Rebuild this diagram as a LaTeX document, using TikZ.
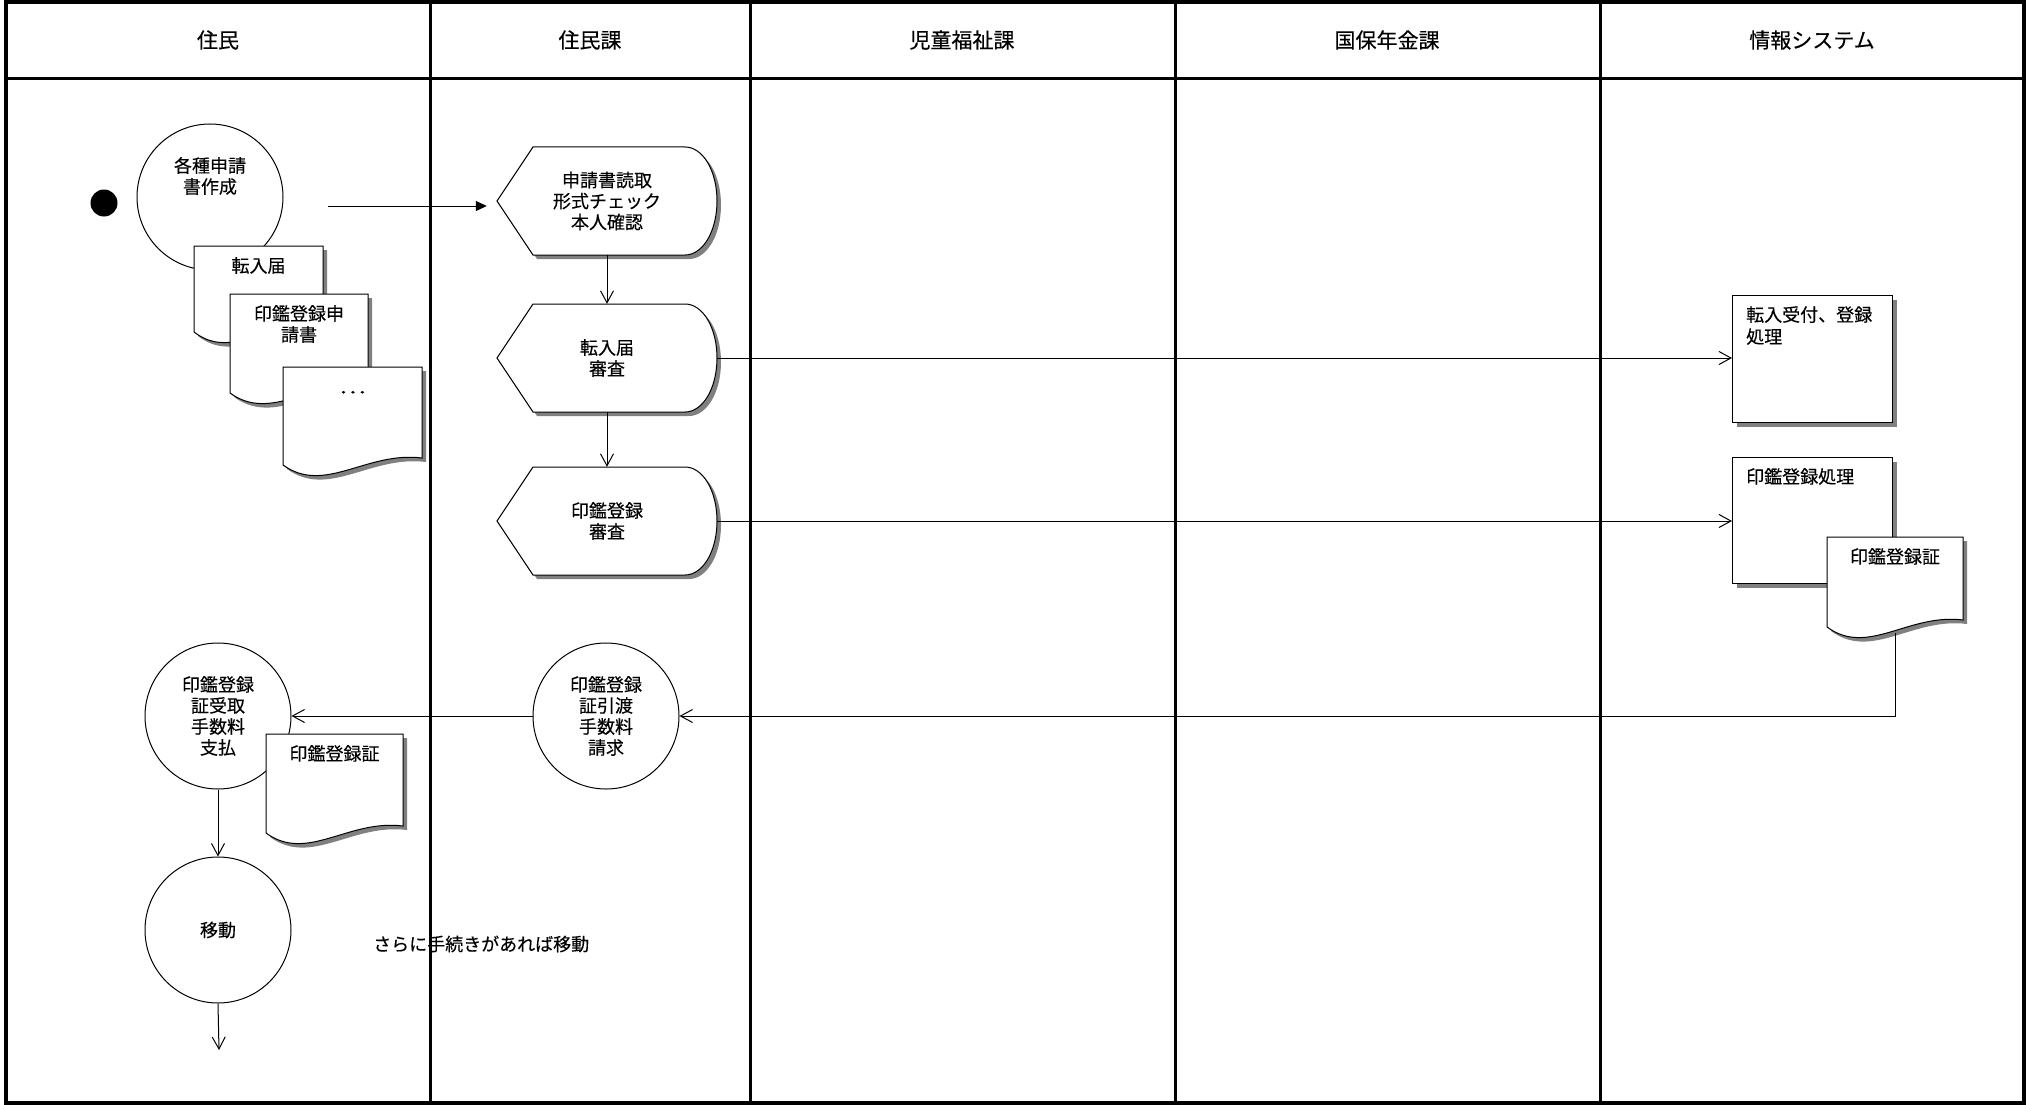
\documentclass[tikz,border=0pt]{standalone}
\usepackage{fontspec}
\setmainfont{Noto Sans CJK JP}[FakeBold=0.3]
\usetikzlibrary{arrows.meta,shadows}

\tikzset{
  frameline/.style={line width=4pt, black},
  lane/.style={line width=3pt, black},
  hdr/.style={font=\fontsize{21}{25}\selectfont, inner sep=0pt},
  txt/.style={font=\fontsize{18}{21}\selectfont, align=center, inner sep=0pt},
  ltxt/.style={font=\fontsize{18}{22}\selectfont, align=left, inner sep=0pt},
  proc/.style={circle, draw, line width=1pt, fill=white, minimum size=146pt, txt},
  shadowc/.style={fill=black!50},
  shapeline/.style={fill=white, draw=black, line width=1pt},
  rectbox/.style={draw, fill=white, line width=1pt, minimum width=160pt, inner sep=0pt,
    anchor=north west, drop shadow={shadow xshift=4pt, shadow yshift=-4pt, fill=black!50, opacity=1}},
  flow/.style={line width=1pt, -{Straight Barb[length=12pt,width=13pt]}},
  solidflow/.style={line width=1pt, -{Triangle[length=11pt,width=10pt]}},
}

% document shape: name, x0, y0, w, h (to left bottom corner), text
\newcommand\docbox[6]{%
  \fill[shadowc, shift={(4,4)}] (#2,#3) -- ({#2+#4},#3) -- ({#2+#4},{#3+#5-7})
     .. controls ({#2+0.6*#4},{#3+#5-14}) and ({#2+0.3*#4},{#3+#5+30}) .. (#2,{#3+#5}) -- cycle;
  \path[shapeline] (#2,#3) -- ({#2+#4},#3) -- ({#2+#4},{#3+#5-7})
     .. controls ({#2+0.6*#4},{#3+#5-14}) and ({#2+0.3*#4},{#3+#5+30}) .. (#2,{#3+#5}) -- cycle;
  \node[txt, anchor=north] (#1) at ({#2+#4/2},{#3+11}) {#6};
}

% display shape: name, cx, cy, text
\newcommand\dispbox[4]{%
  \fill[shadowc, shift={(4,4)}] ({#2-110},#3) -- ({#2-74},{#3-54}) -- ({#2+78},{#3-54})
     .. controls ({#2+96},{#3-54}) and ({#2+110},{#3-30}) .. ({#2+110},#3)
     .. controls ({#2+110},{#3+30}) and ({#2+96},{#3+54}) .. ({#2+78},{#3+54})
     -- ({#2-74},{#3+54}) -- cycle;
  \path[shapeline] ({#2-110},#3) -- ({#2-74},{#3-54}) -- ({#2+78},{#3-54})
     .. controls ({#2+96},{#3-54}) and ({#2+110},{#3-30}) .. ({#2+110},#3)
     .. controls ({#2+110},{#3+30}) and ({#2+96},{#3+54}) .. ({#2+78},{#3+54})
     -- ({#2-74},{#3+54}) -- cycle;
  \node[txt, minimum width=220pt, minimum height=108pt] (#1) at (#2,#3) {#4};
}

\begin{document}
\begin{tikzpicture}[x=1pt,y=-1pt]
\useasboundingbox (0,0) rectangle (2026,1105);
\fill[white] (0,0) rectangle (2026,1105);

% swimlanes
\draw[lane] (6,79) -- (2024,79);
\foreach \x in {430,750,1175,1600} \draw[lane] (\x,2) -- (\x,1103);
\draw[frameline] (6,2) rectangle (2024,1103);
\node[hdr] (hd1) at (218,40) {住民};
\node[hdr] (hd2) at (590,40) {住民課};
\node[hdr] (hd3) at (962,40) {児童福祉課};
\node[hdr] (hd4) at (1387,40) {国保年金課};
\node[hdr] (hd5) at (1812,40) {情報システム};

% start
\node[circle, fill=black, minimum size=27pt, inner sep=0pt] (start) at (104,203) {};

% resident: application
\node[proc] (c1) at (210,197) {};
\node[txt] (c1t) at (210,176) {各種申請\\書作成};
\docbox{d1}{194}{246}{129}{86}{転入届}
\docbox{d2}{230}{294}{138}{99}{印鑑登録申\\請書}
\docbox{d3}{283}{367}{139}{98}{\vphantom{印}\scalebox{1.4}[1]{…}}

% 住民課 displays
\dispbox{h1}{607}{201}{申請書読取\\形式チェック\\本人確認}
\dispbox{h2}{607}{358}{転入届\\審査}
\dispbox{h3}{607}{521}{印鑑登録\\審査}

% information system
\node[rectbox, minimum height=127pt] (r1) at (1732,295) {};
\node[ltxt, anchor=north west] (r1t) at (1746,306) {転入受付、登録\\処理};
\node[rectbox, minimum height=126pt] (r2) at (1732,457) {};
\node[ltxt, anchor=north west] (r2t) at (1746,468) {印鑑登録処理};
\docbox{d4}{1827}{537}{136}{90}{印鑑登録証}
\coordinate (d4b) at (1895,633);

% lower processes
\node[proc] (c2) at (606,716) {印鑑登録\\証引渡\\手数料\\請求};
\node[proc] (c3) at (218,716) {印鑑登録\\証受取\\手数料\\支払};
\docbox{d5}{266}{734}{137}{99}{印鑑登録証}
\node[proc] (c4) at (218,930) {移動};
\coordinate (c4end) at (219,1050);

% connectors
\coordinate (a0) at (328,206);
\draw[solidflow, shorten >=10pt] (a0) -- (a0 -| h1.west);
\draw[flow] (h1.south) -- (h2.north);
\draw[flow] (h2.south) -- (h3.north);
\draw[flow] (h2.east) -- (r1.west |- h2.east);
\draw[flow] (h3.east) -- (r2.west |- h3.east);
\draw[flow] (d4b) |- (c2.east);
\draw[flow] (c2.west) -- (c3.east);
\draw[flow] (c3.south) -- (c4.north);
\draw[flow] (c4.south) -- (c4end);

% note
\node[txt, anchor=west] (note) at (373,944) {さらに手続きがあれば移動};
\end{tikzpicture}
\end{document}
